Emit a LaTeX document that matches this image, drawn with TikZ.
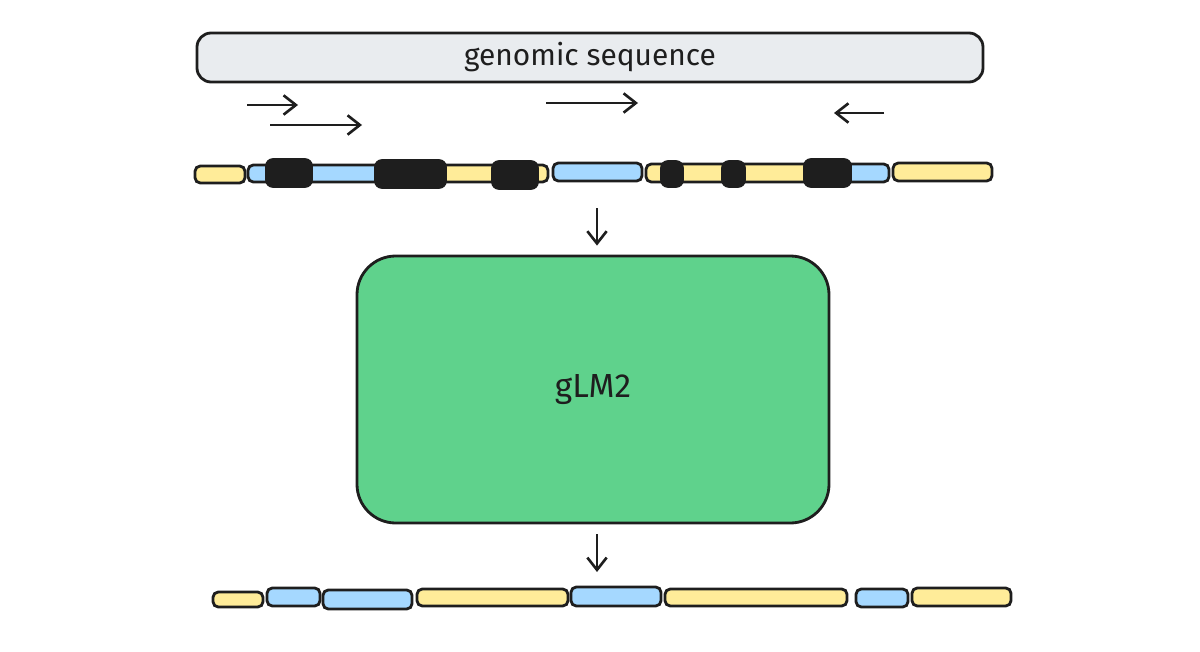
\documentclass[tikz,border=0pt]{standalone}
\usepackage{fontspec}
\setmainfont{Fira Sans}
\usetikzlibrary{arrows.meta, fit, positioning}
\definecolor{my_gray}{RGB}{233, 236, 239}
\definecolor{my_yellow}{RGB}{255, 236, 153}
\definecolor{my_blue}{RGB}{165, 216, 255}
\definecolor{my_green}{RGB}{95, 210, 140}
\definecolor{my_ink}{RGB}{30, 30, 30}
\tikzset {
  bar/.style = {draw=my_ink, line width=1.6pt, rounded corners=3pt, rectangle, inner sep=0pt},
  yseg/.style = {bar, fill=my_yellow},
  bseg/.style = {bar, fill=my_blue},
  exon/.style = {draw=my_ink, fill=my_ink, line width=1pt, rounded corners=4pt, rectangle, inner sep=0pt},
  seqbox/.style = {bar, fill=my_gray, rounded corners=8pt},
  model/.style = {draw=my_ink, line width=1.6pt, fill=my_green, rounded corners=22pt, rectangle, inner sep=0pt},
  line/.style = {-{Straight Barb[length=7pt, width=11pt]}, line width=1.5pt, color=my_ink},
}

\begin{document}
\begin{tikzpicture}[x=0.02cm, y=-0.02cm]
    \useasboundingbox (0,0) rectangle (1200,652);

    % genomic sequence
    \node[seqbox, fit={(197,33) (983,82)}] (genome) {};
    \node[font=\fontsize{17}{20}\selectfont, text=my_ink] (genomelabel) at (genome.center) {genomic sequence};

    % gene directions
    \coordinate (s1) at (247,105);  \coordinate (e1) at (298,105);
    \coordinate (s2) at (270,125);  \coordinate (e2) at (362,125);
    \coordinate (s3) at (546,103);  \coordinate (e3) at (638,103);
    \coordinate (s4) at (884,113);  \coordinate (e4) at (834,113);
    \draw[line] (s1) -- (e1);
    \draw[line] (s2) -- (e2);
    \draw[line] (s3) -- (e3);
    \draw[line] (s4) -- (e4);

    % input tokens
    \node[yseg, fit={(195,166) (245,183)}] (in1) {};
    \node[bseg, fit={(248,165) (410,182)}] (in2) {};
    \node[yseg, fit={(410,165) (548,182)}] (in3) {};
    \node[bseg, fit={(553,163) (642,181)}] (in4) {};
    \node[yseg, fit={(646,164) (827,182)}] (in5) {};
    \node[bseg, fit={(827,164) (889,182)}] (in6) {};
    \node[yseg, fit={(893,163) (992,181)}] (in7) {};

    % exons
    \node[exon, fit={(266,159) (312,187)}] (ex1) {};
    \node[exon, fit={(375,160) (446,188)}] (ex2) {};
    \node[exon, fit={(492,161) (538,189)}] (ex3) {};
    \node[exon, fit={(661,161) (683,187)}] (ex4) {};
    \node[exon, fit={(722,161) (745,187)}] (ex5) {};
    \node[exon, fit={(804,159) (851,187)}] (ex6) {};

    % model
    \node[model, fit={(357,256) (829,523)}] (glm) {};
    \node[font=\fontsize{19}{22}\selectfont, text=my_ink] (glmlabel) at (glm.center) {gLM2};

    \coordinate (inbottom) at (597,208);
    \coordinate (outtop) at (597,572);
    \draw[line, shorten >=0.18cm] (inbottom) -- (inbottom |- glm.north);
    \draw[line, shorten <=0.2cm] (outtop |- glm.south) -- (outtop);

    % output tokens
    \node[yseg, fit={(213,592) (263,607)}] (out1) {};
    \node[bseg, fit={(267,588) (320,606)}] (out2) {};
    \node[bseg, fit={(323,590) (412,609)}] (out3) {};
    \node[yseg, fit={(417,589) (568,606)}] (out4) {};
    \node[bseg, fit={(571,587) (661,606)}] (out5) {};
    \node[yseg, fit={(665,589) (847,606)}] (out6) {};
    \node[bseg, fit={(856,589) (908,607)}] (out7) {};
    \node[yseg, fit={(912,588) (1011,606)}] (out8) {};

  \end{tikzpicture}
\end{document}
